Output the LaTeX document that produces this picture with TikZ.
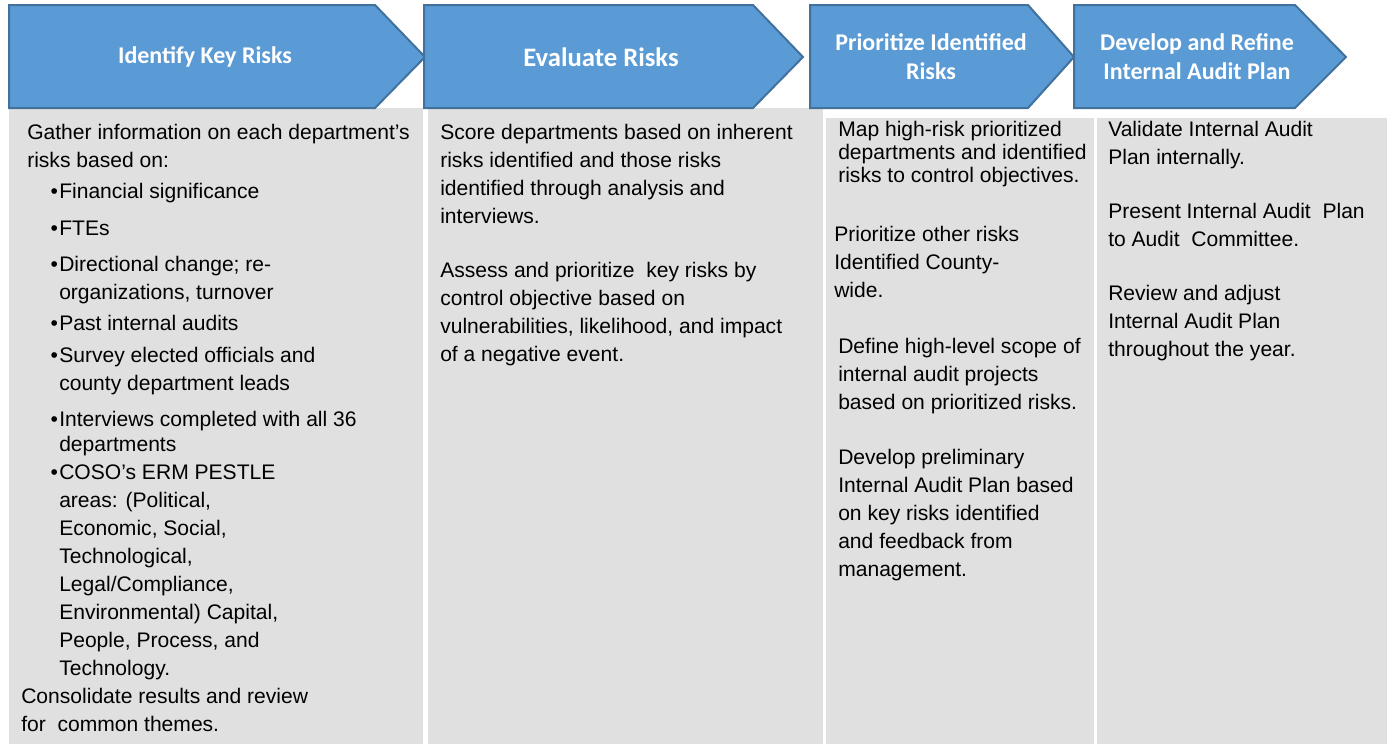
\documentclass[tikz,border=0pt]{standalone}
\usepackage{fontspec}
\setmainfont{Liberation Sans}
\newfontfamily\hdfont{Carlito}
\definecolor{chevblue}{HTML}{5B9BD5}
\definecolor{chevline}{HTML}{41719C}
\definecolor{panelgray}{HTML}{E0E0E0}
\newcommand{\bul}{\llap{\textbullet\kern1pt}}

\begin{document}
\begin{tikzpicture}[x=0.75pt, y=-0.75pt,
        chev/.style={fill=chevblue, draw=chevline, line width=1.5pt},
        panel/.style={fill=panelgray, draw=none},
        head/.style={text=white, align=center, inner sep=0pt,
          font=\hdfont\bfseries\fontsize{18}{21.75}\selectfont},
        body/.style={anchor=base west, align=left, inner sep=0pt,
          font=\fontsize{15.8}{21}\selectfont},
        tight/.style={font=\fontsize{15.8}{16.9}\selectfont}]
      \useasboundingbox (0,0) rectangle (1387,744);
      % grey columns
      \fill[panel] (9,108) rectangle (423,744);
      \fill[panel] (428,108) rectangle (823,744);
      \fill[panel] (826,118) rectangle (1094,744);
      \fill[panel] (1097,118) rectangle (1387,744);
      % chevrons
      \draw[chev] (9,5) -- (375,5) -- (425,57) -- (375,108) -- (9,108) -- cycle;
      \draw[chev] (424,5) -- (753,5) -- (803,57) -- (753,108) -- (424,108) -- cycle;
      \draw[chev] (810,5) -- (1028,5) -- (1074,57) -- (1028,108) -- (810,108) -- cycle;
      \draw[chev] (1074,5) -- (1295,5) -- (1346,57) -- (1295,108) -- (1074,108) -- cycle;
      \node (h1) at (205,57) [head] {Identify Key Risks};
      \node (h2) at (601,57) [head, font=\hdfont\bfseries\fontsize{20}{24}\selectfont] {Evaluate Risks};
      \node (h3) at (931,57) [head] {Prioritize Identified\\Risks};
      \node (h4) at (1197,57) [head] {Develop and Refine\\Internal Audit Plan};
      % column 1 (text nodes sit on the baseline of their last line)
      \node (gather) at (27,167) [body] {Gather information on each department’s\\risks based on:};
      \node (fin) at (59,198) [body] {\bul Financial significance};
      \node (fte) at (59,235) [body] {\bul FTEs};
      \node (dir) at (59,299) [body] {\bul Directional change; re-\\organizations, turnover};
      \node (past) at (59,330) [body] {\bul Past internal audits};
      \node (surv) at (59,390) [body] {\bul Survey elected officials and\\county department leads};
      \node (intv) at (59,451) [body, font=\fontsize{15.8}{18.75}\selectfont] {\bul Interviews completed with all 36\\departments};
      \node (coso) at (59,675) [body] {\bul COSO’s ERM PESTLE\\areas: (Political,\\Economic, Social,\\Technological,\\Legal/Compliance,\\Environmental) Capital,\\People, Process, and\\Technology.};
      \node (cons) at (21,731) [body] {Consolidate results and review\\for~ common themes.};
      % column 2
      \node (score) at (440,223) [body] {Score departments based on inherent\\risks identified and those risks\\identified through analysis and\\interviews.};
      \node (assess) at (440,361) [body] {Assess and prioritize~ key risks by\\control objective based on\\vulnerabilities,~likelihood, and impact\\of a negative event.};
      % column 3
      \node (map) at (838,182) [body, tight] {Map high-risk prioritized\\departments and identified\\risks to control objectives.};
      \node (prio) at (834,297) [body] {Prioritize other risks\\Identified County-\\wide.};
      \node (scope) at (838,409) [body] {Define high-level scope of\\internal audit projects\\based on prioritized risks.};
      \node (prelim) at (838,576) [body] {Develop preliminary\\Internal Audit Plan based\\on key risks identified\\and feedback from\\management.};
      % column 4
      \node (valid) at (1108,164) [body] {Validate Internal Audit\\Plan internally.};
      \node (pres) at (1108,246) [body] {Present Internal Audit~ Plan\\to Audit~ Committee.};
      \node (rev) at (1108,356) [body] {Review and adjust\\Internal Audit Plan\\throughout the year.};
    \end{tikzpicture}
\end{document}
